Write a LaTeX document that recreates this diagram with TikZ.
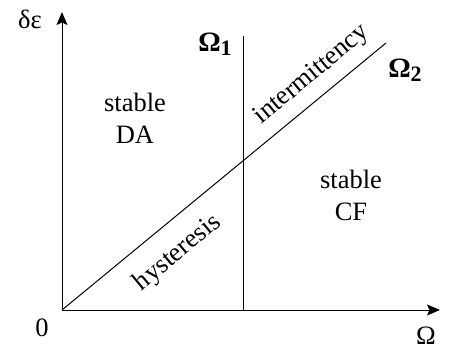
\documentclass[tikz,border=0pt]{standalone}
\usepackage{fontspec}
\setmainfont{Liberation Serif}
\usetikzlibrary{arrows.meta}
\newcommand{\subsc}[1]{\raisebox{-0.35ex}{\fontsize{22}{25}\selectfont #1}}
\begin{document}
\begin{tikzpicture}[x=1pt,y=-1pt,
  axis/.style={line width=1pt,-{Stealth[length=13pt,width=11pt,inset=2.5pt]}},
  ln/.style={line width=1pt},
  lbl/.style={font=\fontsize{26.5}{32}\selectfont, inner sep=0pt, align=center},
  omg/.style={font=\fontsize{28}{32}\selectfont\bfseries, inner sep=0pt}]
\useasboundingbox (0,0) rectangle (449,352);
\coordinate (O) at (62,310);
\coordinate (ytip) at (62,12);
\coordinate (xtip) at (440,310);
\coordinate (v1) at (243,36);
\coordinate (v0) at (243,310);
\coordinate (d1) at (386,43);
\draw[axis] (O) -- (ytip);
\draw[axis] (O) -- (xtip);
\draw[ln] (v0) -- (v1);
\draw[ln] (O) -- (d1);
\node[lbl] (de) at (30,19) {δε};
\node[lbl] (zero) at (42,328) {0};
\node[lbl] (om) at (426,336) {Ω};
\node[omg] (om1) at (215,44) {Ω\subsc{1}};
\node[omg] (om2) at (405,70) {Ω\subsc{2}};
\node[lbl] (da) at (135,118) {stable\\DA};
\node[lbl] (cf) at (351,195) {stable\\CF};
\node[lbl, rotate=39.7] (int) at (312,75) {intermittency};
\node[lbl, rotate=39.7] (hys) at (178,253) {hysteresis};
\end{tikzpicture}
\end{document}
